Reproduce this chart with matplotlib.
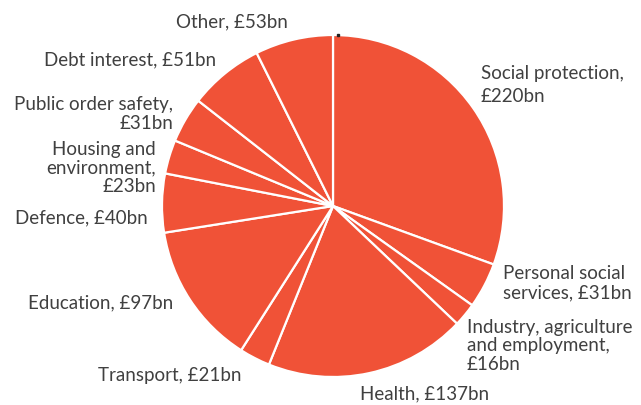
import matplotlib.pyplot as plt

plt.rcParams['font.family'] = ['Lato', 'DejaVu Sans']

# spending by category, £bn (clockwise from top)
categories = ['Social protection', 'Personal social services',
              'Industry, agriculture and employment', 'Health', 'Transport',
              'Education', 'Defence', 'Housing and environment',
              'Public order safety', 'Debt interest', 'Other']
values = [220, 31, 16, 137, 21, 97, 40, 23, 31, 51, 53]

# label text as printed on the chart
label_text = ['Social protection,\n£220bn', 'Personal social\nservices, £31bn',
              'Industry, agriculture\nand employment,\n£16bn', 'Health, £137bn',
              'Transport, £21bn', 'Education, £97bn', 'Defence, £40bn',
              'Housing and\nenvironment,\n£23bn', 'Public order safety,\n£31bn',
              'Debt interest, £51bn', 'Other, £53bn']

# label anchor positions in pixels (x, y from top, horizontal alignment, line spacing)
label_pos = [(481, 85, 'left', 1.47), (503, 283, 'left', 1.15),
             (467, 346, 'left', 1.1), (360, 394, 'left', 1.0),
             (241, 375, 'right', 1.0), (173, 303, 'right', 1.0),
             (148, 218, 'right', 1.0), (156, 168, 'right', 1.13),
             (173, 114, 'right', 1.13), (216, 60, 'right', 1.0),
             (288, 22, 'right', 1.0)]

W, H = 641, 405
fig = plt.figure(figsize=(W / 100, H / 100), dpi=100)
ax = fig.add_axes([0, 0, 1, 1])

cx, cy, r = 333, 206, 171
ax.pie(values, startangle=90, counterclock=False, radius=r,
       center=(cx, H - cy), colors=['#F05237'] * len(values),
       wedgeprops=dict(edgecolor='white', linewidth=1.6))
ax.set_xlim(0, W)
ax.set_ylim(0, H)
ax.set_aspect('equal')
ax.axis('off')

for txt, (x, y, ha, ls) in zip(label_text, label_pos):
    ax.text(x, H - y, txt, ha=ha, va='center', fontsize=13.5,
            color='#404040', linespacing=ls)

ax.plot([cx + 5], [H - cy + r], marker='s', markersize=1.6, color='#222222')

fig.savefig('out.png', dpi=100)
